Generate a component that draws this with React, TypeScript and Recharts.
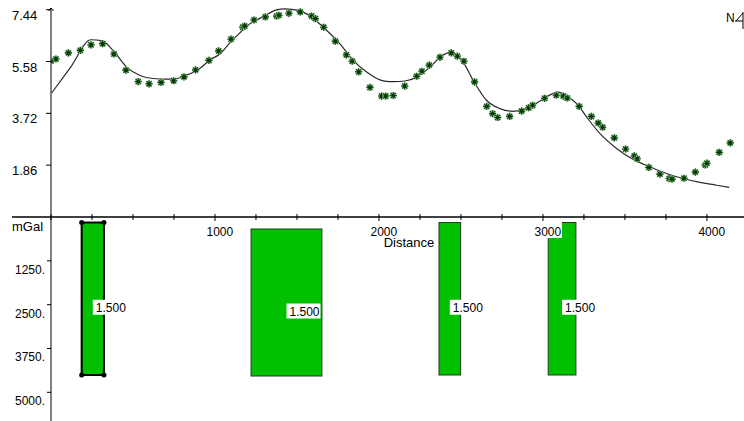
import React from 'react';
import { ComposedChart, Line, Scatter, XAxis, YAxis, ReferenceLine, ReferenceDot, ReferenceArea } from 'recharts';

const W = 744;
const H = 421;
const FONT = '"Liberation Sans", Arial, sans-serif';

// observed gravity (asterisks), mGal vs distance
const obsDist = [0, 30, 106, 179, 244, 315, 384, 457, 532, 598, 671, 748, 811, 882, 963, 1022, 1098, 1169, 1181, 1238, 1307, 1376, 1390, 1451, 1520, 1589, 1612, 1663, 1734, 1801, 1837, 1876, 1945, 2016, 2041, 2087, 2157, 2230, 2262, 2307, 2372, 2441, 2478, 2518, 2583, 2657, 2693, 2724, 2797, 2870, 2913, 2937, 3010, 3081, 3124, 3148, 3221, 3295, 3337, 3364, 3435, 3504, 3557, 3575, 3646, 3713, 3770, 3787, 3860, 3929, 3990, 4000, 4075, 4142];
const obsGrav = [5.6, 5.67, 5.89, 5.98, 6.18, 6.22, 5.85, 5.27, 4.86, 4.78, 4.83, 4.89, 5.03, 5.28, 5.62, 5.96, 6.38, 6.81, 6.85, 7.07, 7.18, 7.21, 7.24, 7.31, 7.36, 7.21, 7.12, 6.81, 6.31, 5.82, 5.59, 5.21, 4.65, 4.34, 4.34, 4.36, 4.7, 5.05, 5.23, 5.45, 5.73, 5.89, 5.77, 5.59, 4.85, 3.97, 3.71, 3.57, 3.61, 3.8, 3.92, 4.01, 4.26, 4.37, 4.34, 4.27, 3.97, 3.61, 3.37, 3.22, 2.84, 2.44, 2.19, 2.09, 1.78, 1.54, 1.38, 1.36, 1.39, 1.61, 1.87, 1.93, 2.32, 2.66];

// calculated gravity (line)
const calcDist = [4, 120, 244, 309, 380, 461, 543, 624, 700, 760, 827, 909, 970, 1030, 1091, 1150, 1213, 1295, 1376, 1427, 1468, 1559, 1661, 1762, 1843, 1925, 2006, 2047, 2087, 2159, 2230, 2311, 2372, 2423, 2463, 2514, 2575, 2657, 2738, 2819, 2900, 2982, 3050, 3093, 3155, 3206, 3266, 3348, 3449, 3551, 3652, 3754, 3856, 3957, 4059, 4136];
const calcGrav = [4.45, 5.38, 6.36, 6.33, 5.97, 5.38, 5.08, 4.97, 4.95, 4.96, 5.09, 5.34, 5.64, 5.85, 6.25, 6.6, 6.93, 7.19, 7.43, 7.47, 7.45, 7.29, 6.81, 6.21, 5.62, 5.2, 4.92, 4.87, 4.86, 4.88, 5.02, 5.38, 5.73, 5.89, 5.85, 5.55, 4.9, 4.18, 3.89, 3.79, 3.89, 4.16, 4.4, 4.48, 4.3, 4.07, 3.59, 2.99, 2.46, 2.06, 1.8, 1.56, 1.38, 1.24, 1.14, 1.06];

const gravTicks = [1.86, 3.72, 5.58, 7.44];
const depthTicks = [1250, 2500, 3750, 5000];
const distTicks = [0, 250, 500, 750, 1000, 1250, 1500, 1750, 2000, 2250, 2500, 2750, 3000, 3250, 3500, 3750, 4000];

// model bodies (distance, depth)
const bodyLeft = [187, 1220, 2366, 3032];
const bodyRight = [323, 1652, 2498, 3201];
const bodyTop = [157, 342, 157, 157];
const bodyBottom = [4506, 4535, 4506, 4506];
const bodyDensity = ['1.500', '1.500', '1.500', '1.500'];
const selectedBody = 0;

const obsData = obsDist.map((x, i) => ({ x, y: obsGrav[i] }));
const calcData = calcDist.map((x, i) => ({ x, y: calcGrav[i] }));
const bodies = bodyLeft.map((x1, i) => ({ x1, x2: bodyRight[i], y1: bodyTop[i], y2: bodyBottom[i], label: bodyDensity[i] }));

const Star = (props: any) => {
  const { cx, cy } = props;
  if (cx == null || cy == null) return null;
  const r = 3.6;
  const d = 2.6;
  const p = `M${cx},${cy - r}V${cy + r}M${cx - r},${cy}H${cx + r}M${cx - d},${cy - d}L${cx + d},${cy + d}M${cx - d},${cy + d}L${cx + d},${cy - d}`;
  return (
    <g>
      <path d={p} stroke="#9cc49c" strokeWidth={2.2} fill="none" />
      <path d={p} stroke="#0b4a0b" strokeWidth={1.1} fill="none" />
      <circle cx={cx} cy={cy} r={1.7} fill="#063806" />
    </g>
  );
};

const Arrow = (props: any) => {
  const { cx, cy } = props;
  return <path d={`M${cx - 2.5},${cy + 3}L${cx},${cy}L${cx + 2.5},${cy + 3}`} stroke="#000" fill="none" />;
};

const GravTick = (props: any) => {
  const { x, y, payload } = props;
  return (
    <text x={x - 34} y={y + 10} fontSize={13} fontFamily={FONT} fill="#000" textAnchor="start">
      {Number(payload.value).toFixed(2)}
    </text>
  );
};

const DepthTick = (props: any) => {
  const { x, y, payload } = props;
  return (
    <text x={x - 2} y={y + 13} fontSize={12} fontFamily={FONT} fill="#000" textAnchor="end">
      {`${payload.value}.`}
    </text>
  );
};

const DistTick = (props: any) => {
  const { x, y, payload } = props;
  const v = payload.value;
  const major = v > 0 && v % 1000 === 0;
  return (
    <g>
      <line x1={x} x2={x} y1={y - 3} y2={y + (major ? 4 : 3)} stroke="#000" />
      {major && (
        <>
          <rect x={x - 9} y={y + 5} width={28} height={16} fill="#fff" />
          <text x={x - 8.5} y={y + 19.3} fontSize={12} fontFamily={FONT} fill="#000">
            {v}
          </text>
        </>
      )}
    </g>
  );
};

const DistanceLabel = (props: any) => {
  const { viewBox } = props;
  return (
    <text x={viewBox.x + viewBox.width / 2 + 11.5} y={viewBox.y + 30} fontSize={13} fontFamily={FONT} fill="#000" textAnchor="middle">
      Distance
    </text>
  );
};

const MgalLabel = (props: any) => {
  const { viewBox } = props;
  return (
    <text x={viewBox.x + 12} y={viewBox.y + 14} fontSize={13} fontFamily={FONT} fill="#000">
      mGal
    </text>
  );
};

const bodyShape = (i: number) => (props: any) => {
  const { x, y, width, height } = props;
  const sel = i === selectedBody;
  const cx = x + width / 2;
  const cy = y + height / 2;
  return (
    <g>
      <rect x={x} y={y} width={width} height={height} fill="#00c000" stroke={sel ? '#000' : '#1d3d1d'} strokeWidth={sel ? 2 : 1} />
      {sel &&
        [[x, y], [x + width, y], [x, y + height], [x + width, y + height]].map(([px, py], k) => (
          <circle key={k} cx={px} cy={py} r={2.5} fill="#000" />
        ))}
      <rect x={cx} y={cy + 1} width={34} height={15} fill="#fff" />
      <text x={cx + 3} y={cy + 13} fontSize={12} fontFamily={FONT} fill="#000">
        {bodies[i].label}
      </text>
    </g>
  );
};

function GravityPanel() {
  return (
    <ComposedChart width={W} height={H} margin={{ top: 8, right: 0, bottom: 174, left: 0 }}>
      <XAxis
        type="number"
        dataKey="x"
        domain={[0, 4226]}
        allowDataOverflow
        ticks={distTicks}
        interval={0}
        tickLine={false}
        tickSize={0}
        tickMargin={0}
        height={30}
        axisLine={{ stroke: '#000', strokeWidth: 1.5 }}
        tick={DistTick}
        label={{ content: DistanceLabel }}
      />
      <YAxis
        type="number"
        domain={[0, 7.5]}
        allowDataOverflow
        ticks={gravTicks}
        interval={0}
        width={51}
        tickSize={5}
        tickMargin={0}
        axisLine={{ stroke: '#000' }}
        tickLine={{ stroke: '#000' }}
        tick={GravTick}
      />
      <ReferenceLine segment={[{ x: -238, y: 0 }, { x: 0, y: 0 }]} stroke="#000" strokeWidth={1.5} ifOverflow="visible" />
      <ReferenceDot x={0} y={7.5} ifOverflow="visible" shape={Arrow} />
      <Line data={calcData} dataKey="y" type="monotone" stroke="#2a2a2a" strokeWidth={1.2} dot={false} isAnimationActive={false} />
      <Scatter data={obsData} dataKey="y" shape={Star} isAnimationActive={false} />
    </ComposedChart>
  );
}

function SectionPanel() {
  return (
    <ComposedChart width={W} height={H} data={bodies} margin={{ top: 217, right: 0, bottom: 0, left: 0 }}>
      <XAxis type="number" dataKey="x1" domain={[0, 4226]} allowDataOverflow hide />
      <YAxis
        type="number"
        domain={[0, 5818]}
        allowDataOverflow
        reversed
        ticks={depthTicks}
        interval={0}
        width={51}
        tickSize={4}
        tickMargin={0}
        axisLine={{ stroke: '#000' }}
        tickLine={{ stroke: '#000' }}
        tick={DepthTick}
        label={{ content: MgalLabel }}
      />
      {bodies.map((b, i) => (
        <ReferenceArea key={i} x1={b.x1} x2={b.x2} y1={b.y1} y2={b.y2} ifOverflow="visible" shape={bodyShape(i)} />
      ))}
    </ComposedChart>
  );
}

export default function App() {
  return (
    <div style={{ position: 'absolute', left: 0, top: 0, width: W, height: H, background: '#fff', fontFamily: FONT }}>
      <div style={{ position: 'absolute', left: 0, top: 0 }}>
        <SectionPanel />
      </div>
      <div style={{ position: 'absolute', left: 0, top: 0 }}>
        <GravityPanel />
      </div>
      <svg width={W} height={H} style={{ position: 'absolute', left: 0, top: 0, pointerEvents: 'none' }}>
        <text x={726} y={22} fontSize={12} fontFamily={FONT} fill="#000">N</text>
        <path d="M743,12V29M735,21H743M736,21L743,13" stroke="#000" fill="none" />
      </svg>
    </div>
  );
}
